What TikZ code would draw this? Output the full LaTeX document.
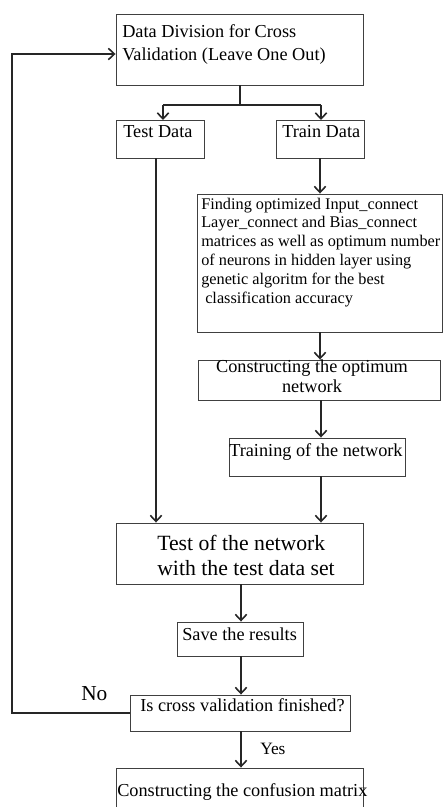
\documentclass[tikz,border=0pt]{standalone}
\usepackage{fontspec}
\setmainfont{Liberation Serif}
\usetikzlibrary{arrows.meta}

\tikzset{
  box/.style={draw=black!75, line width=0.7pt, inner sep=0pt},
  txt/.style={anchor=base west, inner sep=0pt, align=left, font=\fontsize{13.7}{17.25}\selectfont},
  arr/.style={draw=black!85, line width=1.2pt, -{Straight Barb[length=4.5pt,width=8.5pt,line width=1.2pt]}},
  lin/.style={draw=black!85, line width=1.2pt}
}

\begin{document}
\begin{tikzpicture}[x=0.75pt,y=0.75pt,yscale=-1,xscale=1]
        \useasboundingbox (0,0) rectangle (443,807);

        %Boxes
        \node [box, minimum width=185.25pt, minimum height=53.25pt] (divide) at (239.5,49.5) {};
        \node [box, minimum width=66pt, minimum height=28.5pt] (test) at (160,139) {};
        \node [box, minimum width=66pt, minimum height=28.5pt] (train) at (320,139) {};
        \node [box, minimum width=183.75pt, minimum height=103.5pt] (find) at (319.5,263) {};
        \node [box, minimum width=181.5pt, minimum height=30pt] (optnet) at (319,380) {};
        \node [box, minimum width=132pt, minimum height=28.5pt] (trainnet) at (317,457) {};
        \node [box, minimum width=185.25pt, minimum height=45.75pt] (testnet) at (239.5,553.5) {};
        \node [box, minimum width=94.5pt, minimum height=25.5pt] (save) at (240,639) {};
        \node [box, minimum width=165pt, minimum height=27pt] (finished) at (240,713) {};
        \node [box, minimum width=185.25pt, minimum height=36pt] (confusion) at (239.5,792) {};

        % Text Node
        \node [txt] (tdivide) at (122,60) {Data Division for Cross\\Validation (Leave One Out)};
        % Text Node
        \node [txt] (ttest) at (123,137) {Test Data};
        % Text Node
        \node [txt] (ttrain) at (282,137) {Train Data};
        % Text Node
        \node [txt, font=\fontsize{12.2}{14.1}\selectfont] (tfind) at (201,303) {Finding optimized Input\_connect\\Layer\_connect and Bias\_connect\\matrices as well as optimum number\\of neurons in hidden layer using\\genetic algoritm for the best\\\hspace*{3pt}classification accuracy};
        % Text Node
        \node [txt, anchor=base, align=center, font=\fontsize{13.7}{15}\selectfont] (toptnet) at (312,392) {Constructing the optimum\\network};
        % Text Node
        \node [txt] (ttrainnet) at (229,456.7) {Training of the network};
        % Text Node
        \node [txt, font=\fontsize{16.3}{18.75}\selectfont] (ttestnet) at (157,575) {Test of the network\\with the test data set};
        % Text Node
        \node [txt] (tsave) at (182,640) {Save the results};
        % Text Node
        \node [txt] (tfinished) at (140,711.7) {Is cross validation finished?};
        % Text Node
        \node [txt] (tconfusion) at (117,796.7) {Constructing the confusion matrix};
        % Text Node
        \node [txt, font=\fontsize{16}{18}\selectfont] (no) at (81,700) {No};
        % Text Node
        \node [txt, font=\fontsize{13}{15}\selectfont] (yes) at (260,754) {Yes};

        %Straight Lines
        \coordinate (split) at (240,105);
        \coordinate (back) at (12,713);
        \draw [lin] (divide.south -| split) -- (split);
        \draw [arr] (163,105) -- (163,120);
        \draw [arr] (321,105) -- (321,120);
        \draw [lin] (163,105) -- (321,105);
        \draw [arr] ([xshift=-3pt]test.south) -- ([xshift=-3pt]test.south |- testnet.north);
        \draw [arr] (train) -- (train |- find.north);
        \draw [arr] (find.south -| 320,0) -- (optnet.north -| 320,0);
        \draw [arr] (optnet.south -| 321,0) -- (trainnet.north -| 321,0);
        \draw [arr] (trainnet.south -| 321,0) -- (testnet.north -| 321,0);
        \draw [arr] (testnet.south -| 241,0) -- (save.north -| 241,0);
        \draw [arr] (save.south -| 241,0) -- (finished.north -| 241,0);
        \draw [arr] (finished.south -| 241,0) -- (confusion.north -| 241,0);
        \draw [arr] (finished.west) -- (back) |- (divide.west |- 0,54);

\end{tikzpicture}
\end{document}
